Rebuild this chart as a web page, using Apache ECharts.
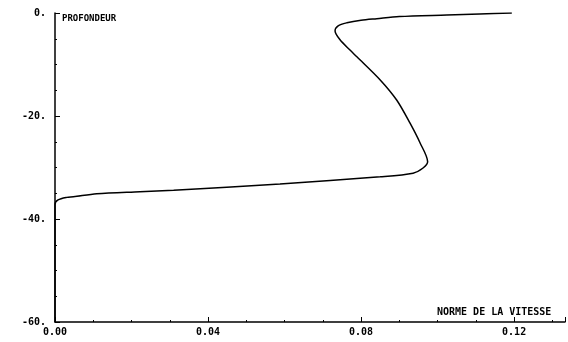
<!DOCTYPE html>
<html>
<head>
<meta charset="utf-8">
<script src="https://cdn.jsdelivr.net/npm/echarts@6/dist/echarts.min.js"></script>
<style>
html,body{margin:0;padding:0;background:#fff;}
#chart{width:568px;height:342px;}
</style>
</head>
<body>
<div id="chart"></div>
<script>
// norme de la vitesse (x) / profondeur (y)
var vitesse = [0.1194, 0.1110, 0.1024, 0.0900, 0.0841, 0.0800, 0.0763, 0.0740, 0.0732, 0.0745,
	0.0771, 0.0789, 0.0850, 0.0893, 0.0928, 0.0954, 0.0974, 0.0962, 0.0936, 0.0850,
	0.0588, 0.0310, 0.0222, 0.0109, 0.0048, 0.0031, 0.0008, 0.0000, 0.0000];
var profondeur = [0, -0.2, -0.4, -0.7, -1.1, -1.4, -1.9, -2.5, -3.5, -5.2,
	-7.2, -8.5, -13.0, -16.9, -21.4, -25.2, -28.9, -30.1, -31.1, -31.8,
	-33.2, -34.4, -34.7, -35.1, -35.7, -35.8, -36.3, -37.2, -60];
var xTicks = [0, 0.04, 0.08, 0.12];
var yTicks = [0, -20, -40, -60];

var pts = [];
for (var i = 0; i < vitesse.length; i++) {
	pts.push([vitesse[i], profondeur[i]]);
}

var font = '"DejaVu Sans Mono", monospace';
var chart = echarts.init(document.getElementById('chart'));
var option = {
	animation: false,
	backgroundColor: '#fff',
	grid: {left: 55, top: 13, right: 3, bottom: 20, containLabel: false},
	xAxis: {
		type: 'value',
		min: 0, max: 0.1333, interval: 0.04,
		splitLine: {show: false},
		axisLine: {onZero: false, lineStyle: {color: '#000', width: 1.5}},
		axisTick: {inside: true, length: 5, lineStyle: {color: '#000'}},
		minorTick: {show: true, splitNumber: 4, length: 2, lineStyle: {color: '#000'}},
		axisLabel: {
			color: '#000', fontFamily: font, fontSize: 10, fontWeight: 'bold', margin: 5,
			showMaxLabel: false,
			formatter: function (v) {
				for (var k = 0; k < xTicks.length; k++) {
					if (Math.abs(v - xTicks[k]) < 1e-6) return xTicks[k].toFixed(2);
				}
				return '';
			}
		}
	},
	yAxis: {
		type: 'value',
		min: -60, max: 0, interval: 20,
		splitLine: {show: false},
		axisLine: {onZero: false, lineStyle: {color: '#000', width: 1.5}},
		axisTick: {inside: true, length: 5, lineStyle: {color: '#000'}},
		minorTick: {show: true, splitNumber: 4, length: 2, lineStyle: {color: '#000'}},
		axisLabel: {
			color: '#000', fontFamily: font, fontSize: 10, fontWeight: 'bold', margin: 9,
			formatter: function (v) { return yTicks.indexOf(v) >= 0 ? v + '.' : ''; }
		}
	},
	graphic: [
		{type: 'text', left: 62, top: 14, style: {text: 'PROFONDEUR', fill: '#000', font: 'bold 9px ' + font}},
		{type: 'text', left: 437, top: 307, style: {text: 'NORME DE LA VITESSE', fill: '#000', font: 'bold 10px ' + font}}
	],
	series: [{
		type: 'line',
		data: pts,
		showSymbol: false,
		smooth: 0.3,
		lineStyle: {color: '#000', width: 1.5}
	}]
};
chart.setOption(option);
</script>
</body>
</html>
